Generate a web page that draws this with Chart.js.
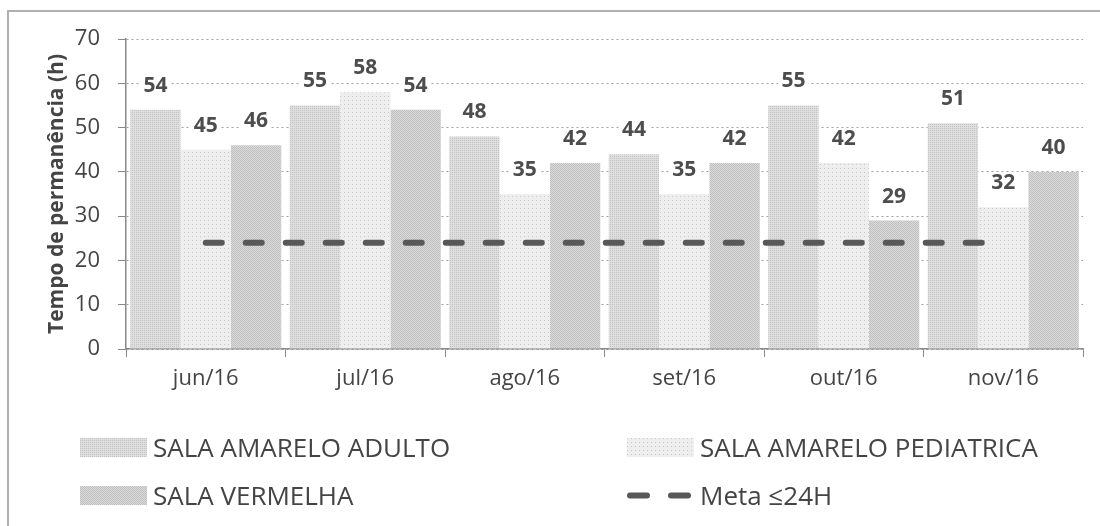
<!DOCTYPE html>
<html>
<head>
<meta charset="utf-8">
<script src="https://cdn.jsdelivr.net/npm/chart.js@4"></script>
<style>
  body{margin:0;background:#fff;width:1100px;height:526px;overflow:hidden;position:relative;font-family:"Open Sans",sans-serif}
  #frame{position:absolute;left:7px;top:10px;width:1200px;height:600px;border-left:2px solid #b0b0b0;border-top:2px solid #b0b0b0}
  #wrap{position:absolute;left:0;top:0;width:1100px;height:410px}
  #legend{position:absolute;left:0;top:0;width:1100px;height:526px;pointer-events:none}
  .item{position:absolute;display:flex;align-items:center;color:#444;font-size:26px;white-space:nowrap}
  .sw{width:67px;height:19px;margin-right:6px}
</style>
</head>
<body>
<div id="frame"></div>
<div id="wrap"><canvas id="chart"></canvas></div>
<div id="legend"></div>
<script>
const months = ['jun/16','jul/16','ago/16','set/16','out/16','nov/16']
const adulto = [54, 55, 48, 44, 55, 51]
const pediatrica = [45, 58, 35, 35, 42, 32]
const vermelha = [46, 54, 42, 42, 29, 40]
const meta = [24, 24, 24, 24, 24, 24]
const seriesNames = ['SALA AMARELO ADULTO','SALA AMARELO PEDIATRICA','SALA VERMELHA','Meta ≤24H']

// small dotted textures to mimic the scanned fills
function makePattern(base, dot, step, offsetRows){
  const c = document.createElement('canvas')
  c.width = step; c.height = step
  const g = c.getContext('2d')
  g.fillStyle = base
  g.fillRect(0, 0, step, step)
  g.fillStyle = dot
  g.fillRect(0, 0, 1, 1)
  if(offsetRows) g.fillRect(Math.floor(step/2), Math.floor(step/2), 1, 1)
  return c
}
const texAdulto = makePattern('#dedede', '#c4c4c4', 2, false)
const texPed = makePattern('#eeeeee', '#c8c8c8', 4, false)
const texVerm = makePattern('#dadada', '#c0c0c0', 2, true)

const ctx = document.getElementById('chart').getContext('2d')
const fills = [texAdulto, texPed, texVerm].map(t => ctx.createPattern(t, 'repeat'))

// value labels with white box behind, like the excel data labels
const valueLabels = {
  id: 'valueLabels',
  afterDatasetsDraw(chart){
    const c = chart.ctx
    c.save()
    c.font = 'bold 21px "Open Sans"'
    c.textAlign = 'center'
    c.textBaseline = 'middle'
    for(let d = 0; d < 3; d++){
      const meta = chart.getDatasetMeta(d)
      meta.data.forEach((el, i) => {
        const txt = String(chart.data.datasets[d].data[i])
        const w = c.measureText(txt).width
        const y = el.y - 24
        c.fillStyle = '#fff'
        c.fillRect(el.x - w/2 - 3, y - 11, w + 6, 22)
        c.fillStyle = '#4d4d4d'
        c.fillText(txt, el.x, y)
      })
    }
    c.restore()
  }
}

const chart = new Chart(ctx, {
  type: 'bar',
  data: {
    labels: months,
    datasets: [
      {label: seriesNames[0], data: adulto, backgroundColor: fills[0], order: 1},
      {label: seriesNames[1], data: pediatrica, backgroundColor: fills[1], order: 1},
      {label: seriesNames[2], data: vermelha, backgroundColor: fills[2], order: 1},
      {label: seriesNames[3], data: meta, type: 'line', borderColor: '#585858', borderWidth: 6,
        borderDash: [16, 24], borderCapStyle: 'round', pointRadius: 0, fill: false, order: 0}
    ]
  },
  options: {
    responsive: true,
    maintainAspectRatio: false,
    animation: false,
    categoryPercentage: 0.947,
    barPercentage: 1,
    layout: {padding: {top: 39, right: 17, left: 0, bottom: 11}},
    plugins: {legend: {display: false}, tooltip: {enabled: false}},
    scales: {
      x: {
        grid: {offset: true, drawOnChartArea: false, tickLength: 8, tickColor: '#8a8a8a'},
        border: {color: '#8a8a8a', width: 1.5},
        ticks: {color: '#444', font: {family: 'Open Sans', size: 22}, padding: 9},
        afterFit(s){ s.height = 50 }
      },
      y: {
        min: 0, max: 70,
        ticks: {stepSize: 10, color: '#444', font: {family: 'Open Sans', size: 22}, padding: 18},
        grid: {color: '#a0a0a0', tickLength: 8, tickColor: '#8a8a8a'},
        border: {color: '#8a8a8a', width: 1.5, dash: [2, 3]},
        title: {display: true, text: 'Tempo de permanência (h)', color: '#444',
          font: {family: 'Open Sans', size: 21, weight: 'bold'}, padding: {top: 44, bottom: 0}},
        afterFit(s){ s.width = 126 }
      }
    }
  },
  plugins: [valueLabels]
})

// legend in two columns, built from the datasets
const legendPos = [[80, 447], [627, 447], [80, 495], [627, 495]]
const legendEl = document.getElementById('legend')
chart.data.datasets.forEach((ds, i) => {
  const item = document.createElement('div')
  item.className = 'item'
  item.style.left = legendPos[i][0] + 'px'
  item.style.top = (legendPos[i][1] - 18) + 'px'
  item.style.height = '36px'
  const sw = document.createElement('canvas')
  sw.className = 'sw'
  sw.width = 67; sw.height = 19
  const g = sw.getContext('2d')
  if(ds.type === 'line'){
    g.strokeStyle = ds.borderColor
    g.lineWidth = 6
    g.lineCap = 'round'
    g.beginPath()
    g.moveTo(3, 9.5); g.lineTo(20, 9.5)
    g.moveTo(44, 9.5); g.lineTo(61, 9.5)
    g.stroke()
  }else{
    g.fillStyle = g.createPattern([texAdulto, texPed, texVerm][i], 'repeat')
    g.fillRect(0, 0, 67, 19)
  }
  item.appendChild(sw)
  const t = document.createElement('span')
  t.textContent = ds.label
  item.appendChild(t)
  legendEl.appendChild(item)
})
</script>
</body>
</html>
